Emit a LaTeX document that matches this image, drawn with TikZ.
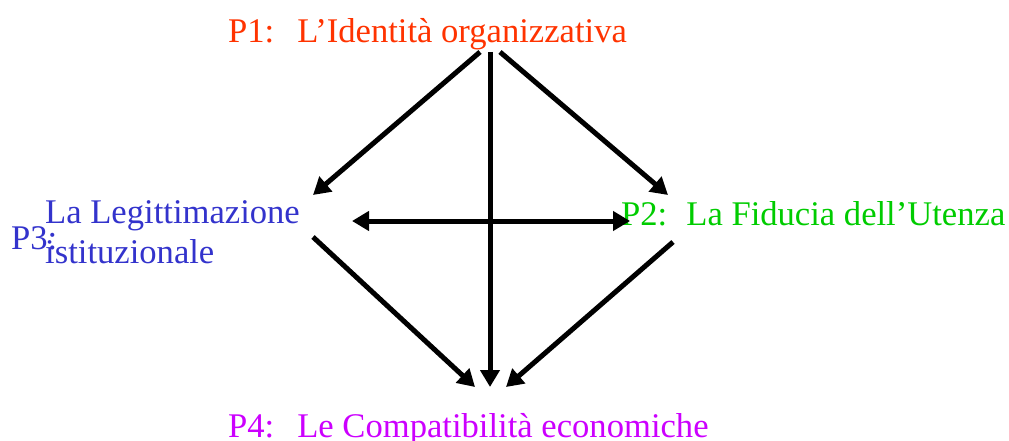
\documentclass[tikz,border=0pt]{standalone}
\usepackage{fontspec}
\setmainfont{Liberation Serif}
\usepackage{xcolor}
\usetikzlibrary{arrows.meta}

\definecolor{pone}{RGB}{255,51,0}
\definecolor{ptwo}{RGB}{0,204,0}
\definecolor{pthree}{RGB}{51,51,204}
\definecolor{pfour}{RGB}{204,0,255}

\begin{document}
\begin{tikzpicture}[
      x=1pt, y=-1pt,
      lbl/.style={inner sep=0pt, anchor=base west,
        font=\fontsize{34.6}{40}\selectfont},
      arrowstyle/.style={-{Triangle[length=17pt,width=19pt]}, line width=5pt},
      both/.style={{Triangle[length=17pt,width=19pt]}-{Triangle[length=17pt,width=19pt]}, line width=5pt}
    ]
    \useasboundingbox (0,0) rectangle (1009,441);

    % Perspectives
    \node[lbl, text=pone] (p1) at (228,43) {P1:\hspace{23pt}L’Identità organizzativa};
    \node[lbl, text=ptwo] (p2) at (621,225) {P2:\hspace{19pt}La Fiducia dell’Utenza};
    \node[lbl, text=pthree] (p3) at (11,249) {P3:};
    \node[lbl, text=pthree, align=left] (p3txt) at (45,263)
      {La Legittimazione\\istituzionale};
    \node[lbl, text=pfour] (p4) at (228,437) {P4:\hspace{23pt}Le Compatibilità economiche};

    % Arrow ends
    \coordinate (p1l) at (480,52);
    \coordinate (p1c) at (490,52);
    \coordinate (p1r) at (500,52);
    \coordinate (p3in) at (313,195);
    \coordinate (p3out) at (313,237);
    \coordinate (p3mid) at (352,221);
    \coordinate (p2in) at (668,195);
    \coordinate (p2out) at (673,242);
    \coordinate (p2mid) at (630,221);
    \coordinate (p4l) at (475,387);
    \coordinate (p4c) at (490,387);
    \coordinate (p4r) at (506,387);

    % Arrows
    \draw[arrowstyle] (p1l) -- (p3in);
    \draw[arrowstyle] (p1c) -- (p4c);
    \draw[arrowstyle] (p1r) -- (p2in);
    \draw[both] (p3mid) -- (p2mid);
    \draw[arrowstyle] (p3out) -- (p4l);
    \draw[arrowstyle] (p2out) -- (p4r);
  \end{tikzpicture}
\end{document}
